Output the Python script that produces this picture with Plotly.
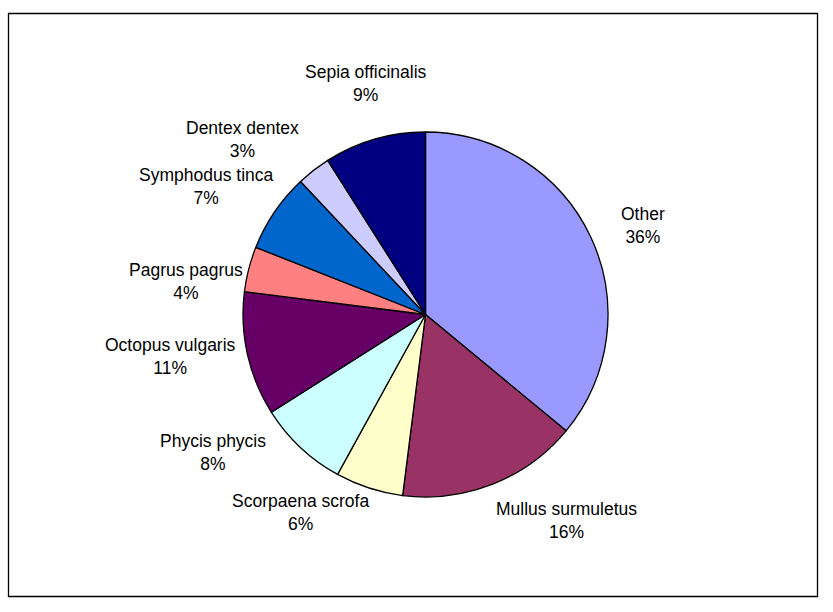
import math
import plotly.graph_objects as go

# Catch composition by species (share of total)
species = [
    "Other", "Mullus surmuletus", "Scorpaena scrofa", "Phycis phycis",
    "Octopus vulgaris", "Pagrus pagrus", "Symphodus tinca", "Dentex dentex",
    "Sepia officinalis",
]
shares = [36, 16, 6, 8, 11, 4, 7, 3, 9]
colors = [
    "#9999FF", "#993366", "#FFFFCC", "#CCFFFF", "#660066",
    "#FF8080", "#0066CC", "#CCCCFF", "#000080",
]

W, H = 833, 612
cx, cy, radius = 425.5, 314.5, 182.5  # pie centre and radius in pixels

fig = go.Figure(
    go.Pie(
        labels=species,
        values=shares,
        sort=False,
        direction="clockwise",
        rotation=0,
        marker=dict(colors=colors, line=dict(color="#000000", width=1.3)),
        textinfo="none",
        hoverinfo="skip",
        showlegend=False,
        domain=dict(
            x=[(cx - radius) / W, (cx + radius) / W],
            y=[(H - cy - radius) / H, (H - cy + radius) / H],
        ),
    )
)

# Data labels sit just outside the rim along each slice's mid-angle;
# a few are nudged (pixels) to keep them clear of their neighbours.
label_dist = 192
label_nudge = {
    "Other": (20, -7),
    "Mullus surmuletus": (-2, 4),
    "Scorpaena scrofa": (5, -8),
    "Phycis phycis": (-26, -25),
    "Pagrus pagrus": (5, 15),
    "Symphodus tinca": (9, 3),
    "Dentex dentex": (-7, 0),
    "Sepia officinalis": (-6, -23),
}

total = sum(shares)
annotations = []
cum = 0
for name, v in zip(species, shares):
    mid = (cum + v / 2) / total * 2 * math.pi
    cum += v
    ux, uy = math.sin(mid), math.cos(mid)
    ndx, ndy = label_nudge.get(name, (0, 0))
    ax = cx + ux * label_dist + ndx
    ay = cy - uy * label_dist + ndy
    xanchor = "left" if ux > 0.3 else ("right" if ux < -0.3 else "center")
    yanchor = "bottom" if uy > 0.5 else ("top" if uy < -0.5 else "middle")
    annotations.append(dict(
        x=ax / W, y=1 - ay / H, xref="paper", yref="paper",
        text=f"{name}<br>{round(v / total * 100)}%",
        showarrow=False, xanchor=xanchor, yanchor=yanchor, align="center",
        font=dict(family="Liberation Sans, Arial, sans-serif", size=17.5, color="#000000"),
    ))

fig.update_layout(
    width=W, height=H,
    margin=dict(l=0, r=0, t=0, b=0),
    paper_bgcolor="#FFFFFF",
    plot_bgcolor="#FFFFFF",
    annotations=annotations,
    shapes=[dict(
        type="rect", xref="paper", yref="paper",
        x0=8.5 / W, x1=817.5 / W, y0=1 - 596.5 / H, y1=1 - 13.5 / H,
        line=dict(color="#000000", width=1.3), fillcolor="rgba(0,0,0,0)",
    )],
)

fig.write_html("out.html")
